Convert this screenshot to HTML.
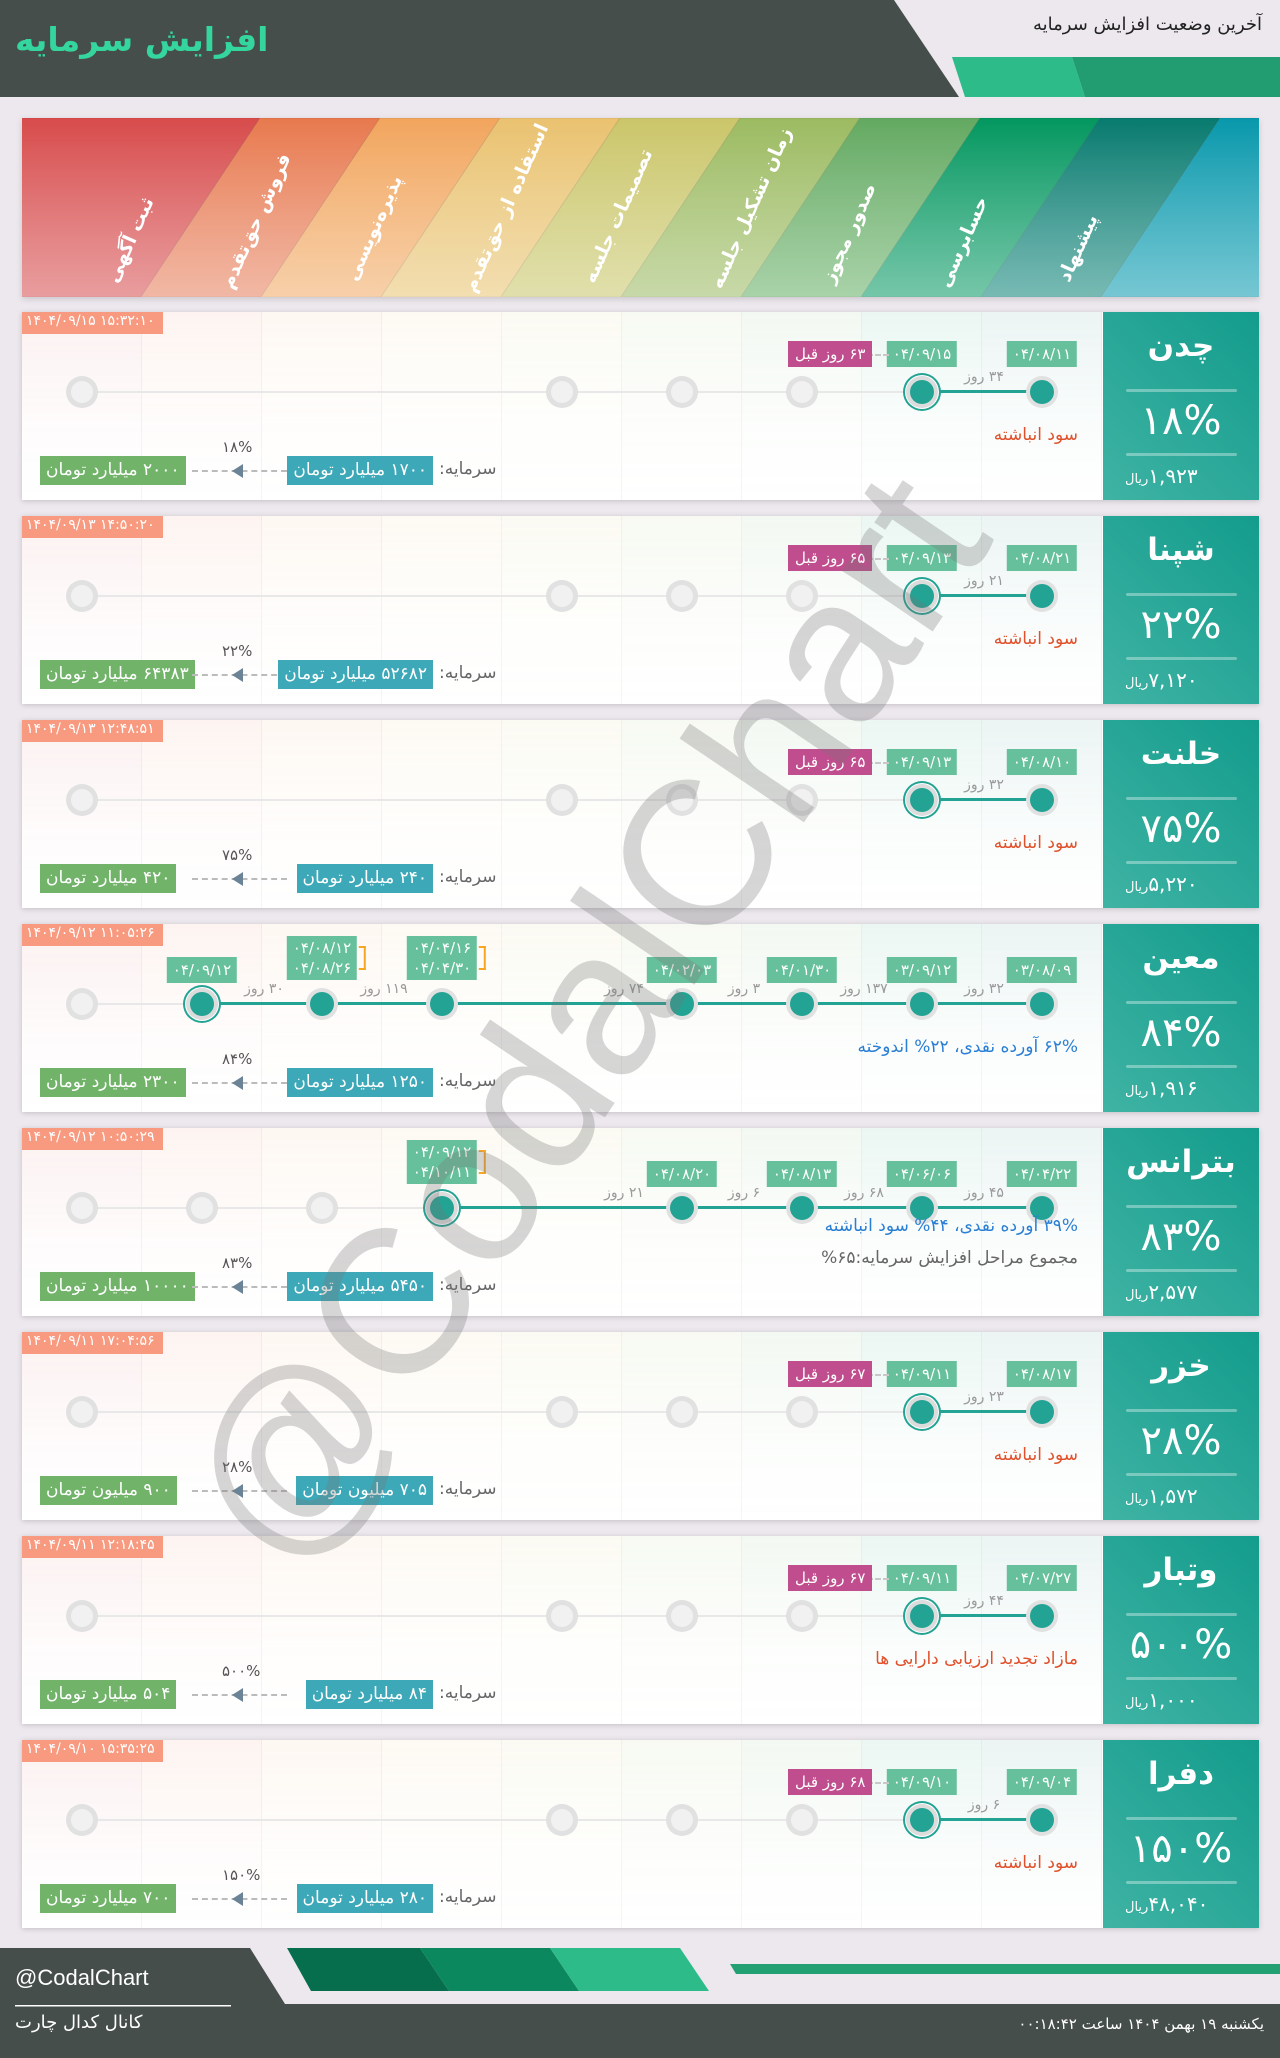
<!DOCTYPE html>
<html><head><meta charset="utf-8">
<style>
*{margin:0;padding:0;box-sizing:border-box}
body{width:1280px;height:2058px;background:#ece8ee;position:relative;overflow:hidden;font-family:"DejaVu Sans","Liberation Sans",sans-serif}
.a{position:absolute}
.ph{left:22px;top:118px;width:1237px;height:179px;overflow:hidden;box-shadow:0 2px 6px rgba(0,0,0,.15)}
.lbl{position:absolute;color:#fff;font-weight:bold;font-size:19px;white-space:nowrap;transform:translate(-50%,-50%) rotate(-66deg);direction:rtl}
.card{position:absolute;left:22px;width:1237px;height:188px;background:#fff;box-shadow:0 1px 5px rgba(0,0,0,.18);overflow:hidden}
.col{position:absolute;top:0;height:188px;width:120px;border-right:1px solid rgba(0,0,0,.04)}
.panel{position:absolute;left:1081px;top:0;width:156px;height:188px;background:linear-gradient(45deg,#3fb3a4,#139c8c)}
.nm{position:absolute;left:0;width:156px;text-align:center;color:#fff;font-weight:bold;font-size:31px;top:16px;direction:rtl}
.hl{position:absolute;left:23px;width:111px;height:3px;background:rgba(255,255,255,.35);border-radius:2px}
.pc{position:absolute;left:0;width:156px;text-align:center;color:#fff;font-size:40px;top:86px;direction:ltr}
.pr{position:absolute;left:22px;top:152px;color:#fff;font-size:20px;direction:rtl;white-space:nowrap}
.pr small{font-size:13px}
.ts{position:absolute;left:-4px;top:-4px;height:26px;padding:0 8px;background:#f89a80;color:#fff;font-size:14px;line-height:26px;direction:ltr}
.gl{position:absolute;top:79px;height:2px;background:#e8e8e8}
.tl{position:absolute;top:78px;height:3px;background:#22a393}
.ci{position:absolute;top:64px;width:32px;height:32px;margin-left:-16px;border-radius:50%;background:#e1e1e1}
.ci i{position:absolute;left:5px;top:5px;width:22px;height:22px;border-radius:50%;background:#f1f1f1}
.ci.on i{left:4px;top:4px;width:24px;height:24px;background:#22a393}
.ci.cur{background:#dcdcdc;box-shadow:0 0 0 1px #fff,0 0 0 3px #22a393}
.db{position:absolute;height:26px;background:#66c09b;color:#fff;font-size:15px;line-height:26px;text-align:center;direction:ltr;transform:translateX(-50%);padding:0 6px;white-space:nowrap}
.db2{position:absolute;background:#66c09b;color:#fff;font-size:15px;line-height:20px;text-align:center;direction:ltr;transform:translateX(-50%);padding:2px 6px;white-space:nowrap}
.br{position:absolute;right:-9px;top:10px;height:24px;width:7px;border:2px solid #f5a623;border-left:none}
.mg{position:absolute;height:26px;background:#c04d8e;color:#fff;font-size:15px;line-height:26px;padding:0 7px;direction:rtl;white-space:nowrap}
.dl{position:absolute;border-top:2px dashed #c8c8c8;height:0}
.dy{position:absolute;top:57px;color:#999;font-size:14px;direction:rtl;white-space:nowrap;transform:translateX(-50%)}
.nt{position:absolute;right:181px;font-size:17px;direction:rtl;white-space:nowrap}
.bx{position:absolute;top:144px;height:29px;color:#fff;font-size:17px;line-height:29px;padding:0 6px;direction:rtl;white-space:nowrap}
.cp{position:absolute;top:147px;left:417px;color:#666;font-size:17px;direction:rtl}
.arr{position:absolute;top:152px;width:0;height:0;border-top:7px solid transparent;border-bottom:7px solid transparent;border-right:11px solid #6b8396}
.pp{position:absolute;top:126px;color:#555;font-size:15px;direction:ltr}
</style></head><body>
<svg class="a" style="left:0;top:0" width="1280" height="97">
<polygon points="0,0 894,0 959,97 0,97" fill="#454e4b"/>
<polygon points="952,57 1072,57 1085,97 965,97" fill="#2dbb8a"/>
<polygon points="1072,57 1280,57 1280,97 1085,97" fill="#229d72"/>
</svg>
<div class="a" style="left:15px;top:20px;color:#35d59e;font-size:33px;font-weight:bold;direction:rtl">افزایش سرمایه</div>
<div class="a" style="right:18px;top:14px;color:#222;font-size:18px;direction:rtl">آخرین وضعیت افزایش سرمایه</div>

<div class="a ph"><svg width="1237" height="179" style="position:absolute;left:0;top:0">
<defs><linearGradient id="fd" x1="0" y1="0" x2="0" y2="1"><stop offset="0" stop-color="#fff" stop-opacity="0"/><stop offset="1" stop-color="#fff" stop-opacity=".25"/></linearGradient></defs>
<g id="bands"></g>
<rect width="1237" height="179" fill="url(#fd)"/>
</svg>
<div id="lbls"></div>
</div>

<div id="cards"></div>

<div class="a" style="left:585px;top:1020px;transform:translate(-50%,-50%) rotate(-56deg);font-family:'Liberation Sans',sans-serif;font-size:207px;color:rgba(120,120,120,.3);white-space:nowrap">@CodalChart</div>

<svg class="a" style="left:0;top:1948px" width="1280" height="110">
<polygon points="0,0 250,0 285,56 1280,56 1280,110 0,110" fill="#454e4b"/>
<polygon points="287,0 420,0 449,43 311,43" fill="#076e4d"/>
<polygon points="420,0 550,0 579,43 449,43" fill="#0c885e"/>
<polygon points="550,0 680,0 709,43 579,43" fill="#2dbb8a"/>
<polygon points="730,16 1280,16 1280,26 736,26" fill="#22a074"/>
<rect x="15" y="57" width="216" height="1.5" fill="#fff"/>
</svg>
<div class="a" style="left:15px;top:1965px;color:#fff;font-size:22px;font-family:'Liberation Sans',sans-serif">@CodalChart</div>
<div class="a" style="left:15px;top:2012px;color:#fff;font-size:18px;direction:rtl">کانال کدال چارت</div>
<div class="a" style="right:16px;top:2015px;color:#fff;font-size:15px;direction:rtl">یکشنبه ۱۹ بهمن ۱۴۰۴ ساعت ۰۰:۱۸:۴۲</div>

<script>
var cols=[["#d84b4b","#e17c7e"],["#e8794e","#eda086"],["#f2a55d","#f4c08c"],["#eac270","#eed396"],["#cbc66a","#d6d590"],["#9cbb61","#b5cc8b"],["#63a961","#8cc38c"],["#03975f","#47b38c"],["#087a6e","#4ba39b"],["#0898ab","#48b4c4"]];
var g=document.getElementById('bands'),s='';
for(var i=0;i<10;i++){
 var bl=i==0?-200:(119+120*(i-1)),br=119+120*i; if(i==9)br=1400;
 s+='<defs><linearGradient id="b'+i+'" x1="0" y1="0" x2="0" y2="1"><stop offset="0" stop-color="'+cols[i][0]+'"/><stop offset="1" stop-color="'+cols[i][1]+'"/></linearGradient></defs>';
 s+='<polygon points="'+(bl+119)+',0 '+(br+119)+',0 '+br+',179 '+bl+',179" fill="url(#b'+i+')" stroke="rgba(0,0,0,.08)"/>';}
g.innerHTML=s;
var L=[["ثبت آگهی",108,122],["فروش حق‌تقدم",234,103],["پذیره‌نویسی",352,110],["استفاده از حق‌تقدم",484,90],["تصمیمات جلسه",596,98],["زمان تشکیل جلسه",729,90],["صدور مجوز",827,115],["حسابرسی",941,124],["پیشنهاد",1056,130]];
var h='';L.forEach(function(l){h+='<div class="lbl" style="left:'+l[1]+'px;top:'+l[2]+'px">'+l[0]+'</div>'});
document.getElementById('lbls').innerHTML=h;

function cx(c){return 60+120*c;}
var C=[
{n:"چدن",p:"۱۸%",pr:"۱,۹۲۳",ts:"۱۴۰۴/۰۹/۱۵ ۱۵:۳۲:۱۰",off:[0,4,5,6],on:[8,7],d:{8:"۰۴/۰۸/۱۱",7:"۰۴/۰۹/۱۵"},mg:"۶۳ روز قبل",dy:["۳۴"],nt:[["سود انباشته","#e0502a"]],c1:"۱۷۰۰ میلیارد تومان",c2:"۲۰۰۰ میلیارد تومان"},
{n:"شپنا",p:"۲۲%",pr:"۷,۱۲۰",ts:"۱۴۰۴/۰۹/۱۳ ۱۴:۵۰:۲۰",off:[0,4,5,6],on:[8,7],d:{8:"۰۴/۰۸/۲۱",7:"۰۴/۰۹/۱۳"},mg:"۶۵ روز قبل",dy:["۲۱"],nt:[["سود انباشته","#e0502a"]],c1:"۵۲۶۸۲ میلیارد تومان",c2:"۶۴۳۸۳ میلیارد تومان"},
{n:"خلنت",p:"۷۵%",pr:"۵,۲۲۰",ts:"۱۴۰۴/۰۹/۱۳ ۱۲:۴۸:۵۱",off:[0,4,5,6],on:[8,7],d:{8:"۰۴/۰۸/۱۰",7:"۰۴/۰۹/۱۳"},mg:"۶۵ روز قبل",dy:["۳۲"],nt:[["سود انباشته","#e0502a"]],c1:"۲۴۰ میلیارد تومان",c2:"۴۲۰ میلیارد تومان"},
{n:"معین",p:"۸۴%",pr:"۱,۹۱۶",ts:"۱۴۰۴/۰۹/۱۲ ۱۱:۰۵:۲۶",off:[0],on:[8,7,6,5,3,2,1],d:{8:"۰۳/۰۸/۰۹",7:"۰۳/۰۹/۱۲",6:"۰۴/۰۱/۳۰",5:"۰۴/۰۲/۰۳",3:["۰۴/۰۴/۱۶","۰۴/۰۴/۳۰"],2:["۰۴/۰۸/۱۲","۰۴/۰۸/۲۶"],1:"۰۴/۰۹/۱۲"},dy:["۳۲","۱۳۷","۳","۷۴","۱۱۹","۳۰"],nt:[["۶۲% آورده نقدی، ۲۲% اندوخته","#2a7fd4"]],c1:"۱۲۵۰ میلیارد تومان",c2:"۲۳۰۰ میلیارد تومان"},
{n:"بترانس",p:"۸۳%",pr:"۲,۵۷۷",ts:"۱۴۰۴/۰۹/۱۲ ۱۰:۵۰:۲۹",off:[0,1,2],on:[8,7,6,5,3],d:{8:"۰۴/۰۴/۲۲",7:"۰۴/۰۶/۰۶",6:"۰۴/۰۸/۱۳",5:"۰۴/۰۸/۲۰",3:["۰۴/۰۹/۱۲","۰۴/۱۰/۱۱"]},dy:["۴۵","۶۸","۶","۲۱"],nt:[["۳۹% آورده نقدی، ۴۴% سود انباشته","#2a7fd4"],["مجموع مراحل افزایش سرمایه:۶۵%","#666"]],c1:"۵۴۵۰ میلیارد تومان",c2:"۱۰۰۰۰ میلیارد تومان"},
{n:"خزر",p:"۲۸%",pr:"۱,۵۷۲",ts:"۱۴۰۴/۰۹/۱۱ ۱۷:۰۴:۵۶",off:[0,4,5,6],on:[8,7],d:{8:"۰۴/۰۸/۱۷",7:"۰۴/۰۹/۱۱"},mg:"۶۷ روز قبل",dy:["۲۳"],nt:[["سود انباشته","#e0502a"]],c1:"۷۰۵ میلیون تومان",c2:"۹۰۰ میلیون تومان"},
{n:"وتبار",p:"۵۰۰%",pr:"۱,۰۰۰",ts:"۱۴۰۴/۰۹/۱۱ ۱۲:۱۸:۴۵",off:[0,4,5,6],on:[8,7],d:{8:"۰۴/۰۷/۲۷",7:"۰۴/۰۹/۱۱"},mg:"۶۷ روز قبل",dy:["۴۴"],nt:[["مازاد تجدید ارزیابی دارایی ها","#e0502a"]],c1:"۸۴ میلیارد تومان",c2:"۵۰۴ میلیارد تومان"},
{n:"دفرا",p:"۱۵۰%",pr:"۴۸,۰۴۰",ts:"۱۴۰۴/۰۹/۱۰ ۱۵:۳۵:۲۵",off:[0,4,5,6],on:[8,7],d:{8:"۰۴/۰۹/۰۴",7:"۰۴/۰۹/۱۰"},mg:"۶۸ روز قبل",dy:["۶"],nt:[["سود انباشته","#e0502a"]],c1:"۲۸۰ میلیارد تومان",c2:"۷۰۰ میلیارد تومان"}];
var out='';
C.forEach(function(c,k){
 var top=312+204*k, h='<div class="card" style="top:'+top+'px">';
 for(var i=0;i<9;i++)h+='<div class="col" style="left:'+(i*120)+'px;background:linear-gradient(180deg,'+cols[i][0]+'14,'+cols[i][0]+'05 60%,#fff0)"></div>';
 var all=c.off.concat(c.on),mn=Math.min.apply(0,all);
 h+='<div class="gl" style="left:'+cx(mn)+'px;width:'+(cx(8)-cx(mn))+'px"></div>';
 var lo=Math.min.apply(0,c.on);
 h+='<div class="tl" style="left:'+cx(lo)+'px;width:'+(cx(8)-cx(lo))+'px"></div>';
 c.off.forEach(function(i){h+='<div class="ci" style="left:'+cx(i)+'px"><i></i></div>'});
 c.on.forEach(function(i){h+='<div class="ci on'+(i==lo?' cur':'')+'" style="left:'+cx(i)+'px"><i></i></div>'});
 for(var j=0;j<c.on.length-1;j++){var a=cx(c.on[j]);h+='<div class="dy" style="left:'+(a-58)+'px">'+c.dy[j]+' روز</div>';}
 for(var key in c.d){var v=c.d[key],x=cx(+key);
  if(typeof v=='string')h+='<div class="db" style="left:'+x+'px;top:'+(c.mg?29:33)+'px">'+v+'</div>';
  else{h+='<div class="db2" style="left:'+x+'px;top:12px">'+v[0]+'<br>'+v[1]+'<div class="br"></div></div>';}}
 if(c.mg){h+='<div class="dl" style="left:845px;top:42px;width:22px"></div><div class="mg" style="left:766px;top:29px">'+c.mg+'</div>';}
 c.nt.forEach(function(n,j){h+='<div class="nt" style="top:'+(c.nt.length>1?88+j*32:113)+'px;color:'+n[1]+'">'+n[0]+'</div>'});
 h+='<div class="bx" style="left:18px;background:#72b36a">'+c.c2+'</div>';
 h+='<div class="dl" style="left:170px;top:158px;width:95px;border-color:#bbb"></div><div class="arr" style="left:210px"></div>';
 h+='<div class="pp" style="left:200px">'+c.p+'</div>';
 h+='<div class="bx" style="right:826px;background:#3da8b8">'+c.c1+'</div>';
 h+='<div class="cp">سرمایه:</div>';
 h+='<div class="ts">'+c.ts+'</div>';
 h+='<div class="panel"><div class="nm">'+c.n+'</div><div class="hl" style="top:77px"></div><div class="pc">'+c.p+'</div><div class="hl" style="top:141px"></div><div class="pr">'+c.pr+'<small>ریال</small></div></div>';
 h+='</div>';out+=h;});
document.getElementById('cards').innerHTML=out;
</script>
</body></html>
